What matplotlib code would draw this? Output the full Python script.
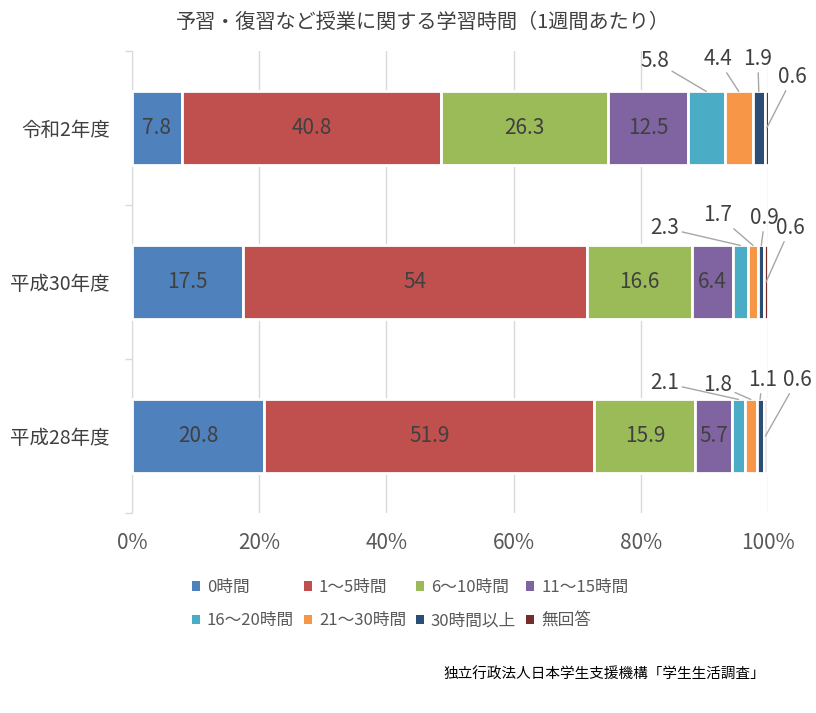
import numpy as np
import matplotlib
matplotlib.use("Agg")
import matplotlib.pyplot as plt
from matplotlib.patches import Patch

plt.rcParams['font.family'] = ['Noto Sans CJK JP', 'DejaVu Sans']

# data
years = ["令和2年度", "平成30年度", "平成28年度"]
groups = ["0時間", "1〜5時間", "6〜10時間", "11〜15時間",
          "16〜20時間", "21〜30時間", "30時間以上", "無回答"]
r2 = [7.8, 40.8, 26.3, 12.5, 5.8, 4.4, 1.9, 0.6]
h30 = [17.5, 54, 16.6, 6.4, 2.3, 1.7, 0.9, 0.6]
h28 = [20.8, 51.9, 15.9, 5.7, 2.1, 1.8, 1.1, 0.6]
vals = np.array([r2, h30, h28])

colors = ["#4F81BD", "#C0504D", "#9BBB59", "#8064A2",
          "#4BACC6", "#F79646", "#2C4D75", "#772C2A"]

# where the outside labels go: (row, segment) -> (x in %, y offset from bar centre)
callouts = {
    (0, 4): (82.2, -0.435), (0, 5): (92.1, -0.448), (0, 6): (98.4, -0.448), (0, 7): (103.9, -0.331),
    (1, 4): (83.8, -0.351), (1, 5): (92.1, -0.435), (1, 6): (99.5, -0.416), (1, 7): (103.5, -0.351),
    (2, 4): (83.8, -0.344), (2, 5): (92.1, -0.331), (2, 6): (99.1, -0.364), (2, 7): (104.6, -0.364),
}

fig = plt.figure(figsize=(8.16, 7.13), dpi=100)
ax = fig.add_axes([132/816, 1-513/713, 636/816, 462/713])

y = np.arange(len(years))
h = 0.475
left = np.zeros(len(years))
for j in range(len(groups)):
    w = vals[:, j]
    ax.barh(y, w, left=left, height=h, color=colors[j], edgecolor='white',
            linewidth=2, zorder=3)
    for i in range(len(years)):
        cx = left[i] + w[i] / 2
        txt = f"{w[i]:g}"
        if (i, j) in callouts:
            lx, dy = callouts[(i, j)]
            if j == 7:
                target = (cx, y[i])
            else:
                target = (cx, y[i] - h / 2)
            ax.annotate(txt, xy=target, xytext=(lx, y[i] + dy),
                        ha='center', va='center', fontsize=15, color='#404040',
                        annotation_clip=False,
                        arrowprops=dict(arrowstyle='-', color='#A6A6A6', lw=1,
                                        shrinkA=0, shrinkB=0))
        else:
            ax.text(cx, y[i], txt, ha='center', va='center', fontsize=15,
                    color='#404040', zorder=4)
    left = left + w

ax.set_xlim(0, 100)
ax.set_ylim(2.5, -0.5)
ax.set_xticks(np.arange(0, 101, 20))
ax.set_xticklabels([f"{t}%" for t in range(0, 101, 20)], fontsize=15, color='#595959')
ax.set_yticks(y)
ax.set_yticklabels(years, fontsize=14, color='#404040')
ax.set_yticks([-0.5, 0.5, 1.5, 2.5], minor=True)
ax.tick_params(axis='y', which='major', length=0, pad=16)
ax.tick_params(axis='y', which='minor', length=5, color='#D9D9D9', width=1)
ax.tick_params(axis='x', length=0, pad=14)
ax.grid(axis='x', color='#D9D9D9', linewidth=1)
ax.set_axisbelow(True)
for s in ['top', 'right', 'bottom']:
    ax.spines[s].set_visible(False)
ax.spines['left'].set_color('#D9D9D9')

fig.text(423/816, 1-22/713, "予習・復習など授業に関する学習時間（1週間あたり）",
         ha='center', va='center', fontsize=14.5, color='#404040')

handles = [Patch(facecolor=c, edgecolor='none') for c in colors]
order = [0, 4, 1, 5, 2, 6, 3, 7]
fig.legend([handles[k] for k in order], [groups[k] for k in order],
           loc='center', bbox_to_anchor=(410/816, 1-604/713), ncol=4,
           frameon=False, fontsize=12, handlelength=0.5, handleheight=0.5,
           handletextpad=0.4, columnspacing=0.6, labelspacing=1.0,
           labelcolor='#595959')

fig.text(765/816, 1-675/713, "独立行政法人日本学生支援機構「学生生活調査」",
         ha='right', va='center', fontsize=10.5, color='black')

fig.savefig("out.png", dpi=100)
